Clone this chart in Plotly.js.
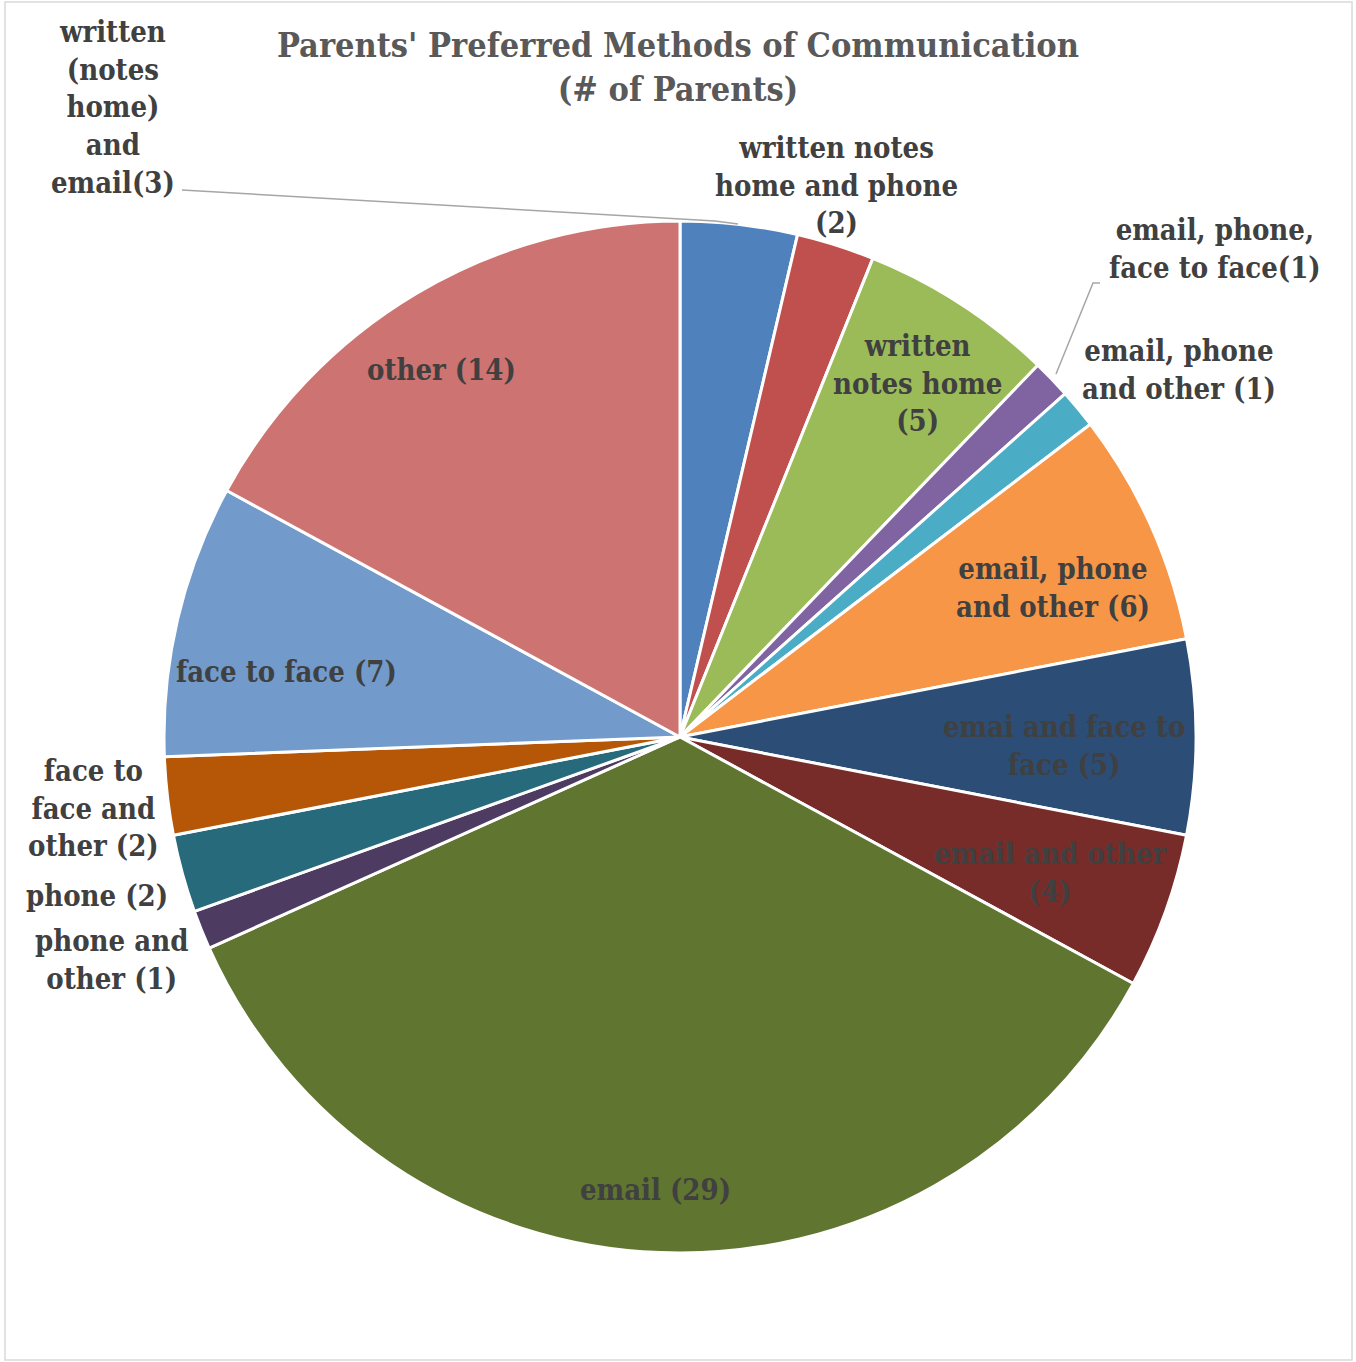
<!DOCTYPE html>
<html>
<head>
<meta charset="utf-8">
<script src="https://cdn.plot.ly/plotly-3.0.1.min.js"></script>
<style>html,body{margin:0;padding:0;background:#fff;}#chart{width:1356px;height:1362px;}</style>
</head>
<body>
<div id="chart"></div>
<script>
// ---- data ----
const categories = [
  "written (notes home) and email",
  "written notes home and phone",
  "written notes home",
  "email, phone, face to face",
  "email, phone and other (1)",
  "email, phone and other (6)",
  "emai and face to face",
  "email and other",
  "email",
  "phone and other",
  "phone",
  "face to face and other",
  "face to face",
  "other"
];
const values = [3, 2, 5, 1, 1, 6, 5, 4, 29, 1, 2, 2, 7, 14];
const labelTexts = [
  "written<br>(notes<br>home)<br>and<br>email(3)",
  "written notes<br>home and phone<br>(2)",
  "written<br>notes home<br>(5)",
  "email, phone,<br>face to face(1)",
  "email, phone<br>and other (1)",
  "email, phone<br>and other (6)",
  "emai and face to<br>face (5)",
  "email and other<br>(4)",
  "email (29)",
  "phone and<br>other (1)",
  "phone (2)",
  "face to<br>face and<br>other (2)",
  "face to face (7)",
  "other (14)"
];
const colors = ["#4F81BD","#C0504D","#9BBB59","#8064A2","#4BACC6","#F79646",
                "#2C4D75","#772C2A","#5F7530","#4D3B62","#276A7C","#B65708",
                "#729ACA","#CD7371"];

// ---- layout helpers (label placement in page pixels) ----
const W = 1356, H = 1362;
const labelPos = [
  [113,107],[836,185],[917,383],[1215,249],[1179,370],[1053,588],
  [1064,746],[1050,873],[655,1190],[111,960],[97,896],[93,809],
  [286,672],[441,370]
];
const px = x => x / W;
const py = y => 1 - y / H;
const FONT = "'DejaVu Serif Condensed', 'DejaVu Serif', serif";

const annotations = labelTexts.map((t, i) => ({
  text: "<b>" + t + "</b>",
  x: px(labelPos[i][0]), y: py(labelPos[i][1]),
  xref: "paper", yref: "paper",
  xanchor: "center", yanchor: "middle",
  showarrow: false, align: "center",
  font: {family: FONT, size: 29, color: "#404040"}
}));
annotations.push({
  text: "<b>Parents' Preferred Methods of Communication<br>(# of Parents)</b>",
  x: px(678), y: py(67), xref: "paper", yref: "paper",
  xanchor: "center", yanchor: "middle", showarrow: false, align: "center",
  font: {family: FONT, size: 34, color: "#595959"}
});

const cx = 680, cy = 737, r = 516;
const shapes = [
  {type: "rect", xref: "paper", yref: "paper", x0: px(5), x1: px(1352), y0: py(1360), y1: py(2),
   line: {color: "#D9D9D9", width: 1.5}, fillcolor: "rgba(0,0,0,0)"},
  {type: "path", xref: "paper", yref: "paper",
   path: `M ${px(182)} ${py(190)} L ${px(715)} ${py(221)} L ${px(738)} ${py(224)}`,
   line: {color: "#A6A6A6", width: 1.5}},
  {type: "path", xref: "paper", yref: "paper",
   path: `M ${px(1100)} ${py(283)} L ${px(1093)} ${py(283)} L ${px(1056)} ${py(374)}`,
   line: {color: "#A6A6A6", width: 1.5}}
];

const trace = {
  type: "pie",
  labels: categories,
  values: values,
  sort: false,
  direction: "clockwise",
  rotation: 0,
  textinfo: "none",
  hoverinfo: "label+value",
  marker: {colors: colors, line: {color: "#FFFFFF", width: 3}},
  domain: {x: [(cx - r) / W, (cx + r) / W], y: [(H - cy - r) / H, (H - cy + r) / H]},
  showlegend: false
};

Plotly.newPlot("chart", [trace], {
  width: W, height: H,
  margin: {l: 0, r: 0, t: 0, b: 0},
  paper_bgcolor: "#FFFFFF",
  showlegend: false,
  annotations: annotations,
  shapes: shapes
}, {displayModeBar: false, staticPlot: true});
</script>
</body>
</html>
